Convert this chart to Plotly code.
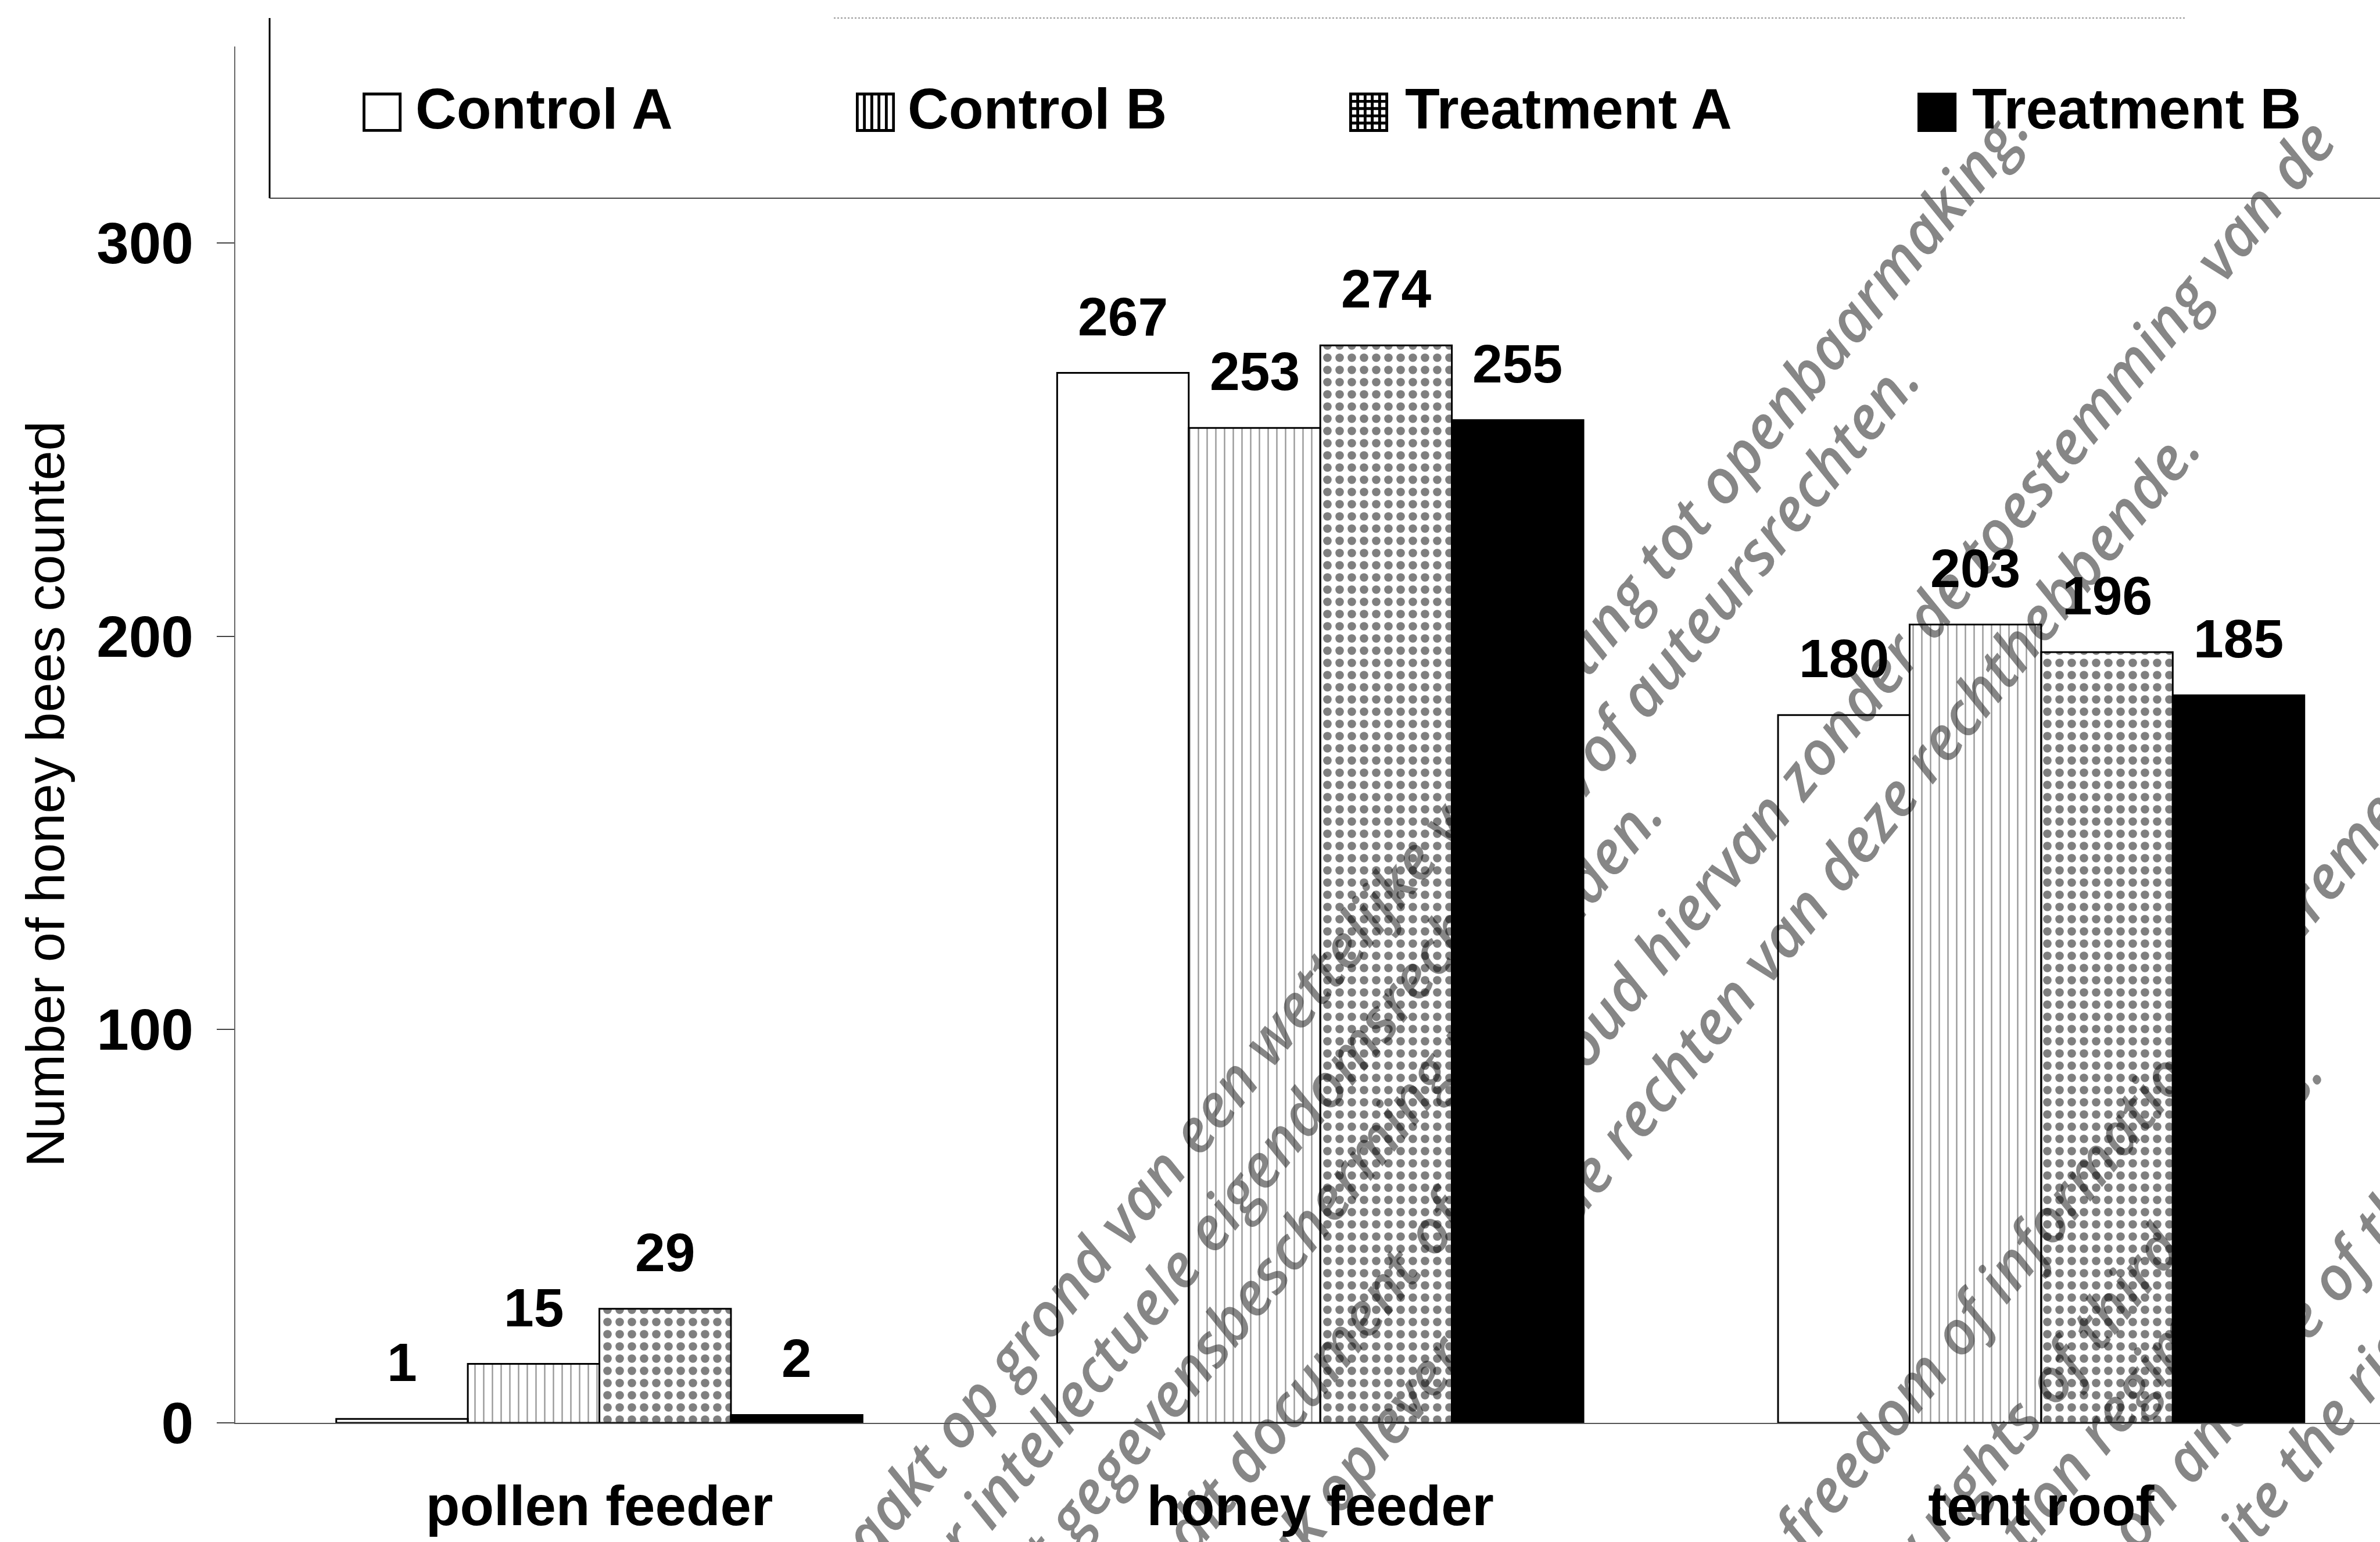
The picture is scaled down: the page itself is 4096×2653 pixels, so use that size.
import math
import plotly.graph_objects as go

# ---------------- data ----------------
categories = ["pollen feeder", "honey feeder", "tent roof"]
series_names = ["Control A", "Control B", "Treatment A", "Treatment B"]
control_a = [1, 267, 180]
control_b = [15, 253, 203]
treatment_a = [29, 274, 196]
treatment_b = [2, 255, 185]
y_tick_vals = [0, 100, 200, 300]
y_title = "Number of honey bees counted"
legend_glyphs = ["\u25a1", "\u25a5", "\u25a6", "\u25a0"]

watermark_nl = [
    "Openbaar gemaakt op grond van een wettelijke verplichting tot openbaarmaking.",
    "Hierop kunnen rechten rusten, onder meer intellectuele eigendomsrechten en/of auteursrechten.",
    "Ook kunnen regels omtrent gegevensbescherming nog gelden.",
    "Het is niet toegestaan om dit document of de inhoud hiervan zonder de toestemming van de",
    "rechthebbende te verveelvoudigen; dit kan een inbreuk opleveren op de rechten van deze rechthebbende.",
]
watermark_en_end = ["Made public on this basis; it may be subject to any rights of third parties."]
watermark_en_start = [
    "freedom of information requirements.",
    "tion regime and",
    "on and use of the",
    "ite the rights of the",
]

series_values = [control_a, control_b, treatment_a, treatment_b]

# ---------------- geometry ----------------
W, H = 4096, 2653
ML, MR, MT, MB = 405, 0, 80, 205
PW, PH = W - ML - MR, H - MT - MB
BARGAP = 0.27
FONT = "Liberation Sans"


def pxx(px):
    return (px - ML) / PW


def pxy(py):
    return (H - MB - py) / PH


clear = "rgba(255,255,255,0)"
styles = [
    dict(color=clear, line=dict(color="black", width=3)),
    dict(color=clear, line=dict(color="black", width=3),
         pattern=dict(shape="|", fgcolor="#333333", bgcolor=clear, size=15, solidity=0.16)),
    dict(color=clear, line=dict(color="black", width=3),
         pattern=dict(shape=".", fgcolor="black", bgcolor=clear, size=21, solidity=0.38)),
    dict(color="black", line=dict(color="black", width=3)),
]

fig = go.Figure()
for name, vals, st in zip(series_names, series_values, styles):
    fig.add_trace(go.Bar(x=categories, y=vals, name=name, marker=st,
                         showlegend=False, hoverinfo="x+y+name"))

annotations = []
n = len(series_names)
slot = (1 - BARGAP) / n
for j, vals in enumerate(series_values):
    for k, v in enumerate(vals):
        annotations.append(dict(
            x=k + (j - (n - 1) / 2) * slot, y=v, xref="x", yref="y",
            text=str(v), showarrow=False, yanchor="bottom", xanchor="center",
            yshift=43, font=dict(family=FONT, size=93, color="black", weight="bold")))

# y-axis title
annotations.append(dict(x=pxx(78), y=pxy(1366), xref="paper", yref="paper",
                        text=y_title, textangle=-90, showarrow=False,
                        xanchor="center", yanchor="middle",
                        font=dict(family=FONT, size=92, color="black")))

# legend (custom, boxed)
sw_left = [614, 1463, 2312, 3290]
tx_left = [713, 1560, 2416, 3392]
leg_y = 183
for g, name, sx, tx in zip(legend_glyphs, series_names, sw_left, tx_left):
    annotations.append(dict(x=pxx(sx), y=pxy(leg_y + 2), xref="paper", yref="paper",
                            text=g, showarrow=False, xanchor="left", yanchor="middle",
                            font=dict(family="DejaVu Sans", size=88, color="black")))
    annotations.append(dict(x=pxx(tx), y=pxy(leg_y + 4), xref="paper", yref="paper",
                            text=name, showarrow=False, xanchor="left", yanchor="middle",
                            font=dict(family=FONT, size=98, color="black", weight="bold")))

shapes = [
    dict(type="line", xref="paper", yref="paper", x0=pxx(464), x1=pxx(464),
         y0=pxy(31), y1=pxy(341), line=dict(color="black", width=3)),
    dict(type="line", xref="paper", yref="paper", x0=pxx(464), x1=pxx(W + 10),
         y0=pxy(341), y1=pxy(341), line=dict(color="#444444", width=2)),
    dict(type="line", xref="paper", yref="paper", x0=pxx(1435), x1=pxx(3760),
         y0=pxy(31), y1=pxy(31), line=dict(color="#999999", width=2, dash="dot")),
]

# watermark (drawn beneath the bars, like a multiply overlay)
ANG_DEG = 51
ANG = math.radians(ANG_DEG)
ux, uy = math.cos(ANG), -math.sin(ANG)
wm_font = dict(family="Open Sans", size=104, color="#868686", style="italic", weight=600)
L = 2600


def wm_line(text, ax, ay, anchor):
    if anchor == "end":
        x0, y0, x1, y1 = ax - L * ux, ay - L * uy, ax, ay
        xa = "right"
    else:
        x0, y0, x1, y1 = ax, ay, ax + L * ux, ay + L * uy
        xa = "left"
    return dict(type="line", xref="paper", yref="paper", layer="below",
                x0=pxx(x0), y0=pxy(y0), x1=pxx(x1), y1=pxy(y1),
                line=dict(color="rgba(0,0,0,0)", width=0),
                label=dict(text=text, font=wm_font, textposition=anchor,
                           textangle=-ANG_DEG, xanchor=xa, yanchor="middle"))


nl_ends = [(3475, 202), (3287, 634), (2845, 1382), (4002, 224), (3770, 752)]
for t, (ex, ey) in zip(watermark_nl, nl_ends):
    shapes.append(wm_line(t, ex, ey, "end"))
shapes.append(wm_line(watermark_en_end[0], 3981, 1826, "end"))
en_starts = [(3077, 2653), (3459, 2653), (3650, 2653), (3841, 2653)]
for t, (sx, sy) in zip(watermark_en_start, en_starts):
    shapes.append(wm_line(t, sx, sy, "start"))

fig.update_layout(
    width=W, height=H,
    margin=dict(l=ML, r=MR, t=MT, b=MB, pad=0, autoexpand=False),
    barmode="group", bargap=BARGAP, bargroupgap=0,
    showlegend=False,
    plot_bgcolor="white", paper_bgcolor="white",
    annotations=annotations, shapes=shapes,
    xaxis=dict(type="category", range=[-0.505, 2.47], showgrid=False, zeroline=False,
               automargin=False,
               showline=True, linecolor="#555555", linewidth=2, ticks="",
               ticklabelstandoff=59,
               tickfont=dict(family=FONT, size=96, color="black", weight="bold")),
    yaxis=dict(range=[0, 350], tickvals=y_tick_vals, showgrid=False, zeroline=False,
               automargin=False,
               showline=True, linecolor="#666666", linewidth=2,
               ticks="outside", ticklen=30, tickwidth=2, tickcolor="#444444",
               ticklabelstandoff=20,
               tickfont=dict(family=FONT, size=100, color="black", weight="bold")),
)

fig.write_html("out.html")
